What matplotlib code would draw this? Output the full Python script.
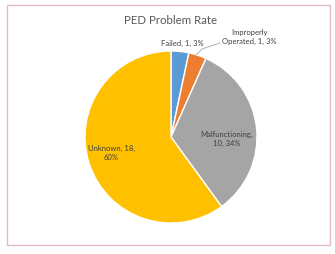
import matplotlib
matplotlib.use("Agg")
import matplotlib.pyplot as plt
from matplotlib.patches import Rectangle

categories = ["Failed", "Improperly\nOperated", "Malfunctioning", "Unknown"]
values = [1, 1, 10, 18]
percent_labels = ["3%", "3%", "34%", "60%"]
colors = ["#5B9BD5", "#ED7D31", "#A5A5A5", "#FFC000"]

plt.rcParams['font.family'] = ['Lato', 'DejaVu Sans']

fig = plt.figure(figsize=(3.35, 2.54), dpi=100)
fig.patch.set_facecolor("white")
fig.add_artist(Rectangle((7/335, 1 - 245/254), 323/335, 240/254, transform=fig.transFigure,
                         fill=False, edgecolor="#E3BCC3", linewidth=1.0))

ax = fig.add_axes([(171-86)/335, 1-(137+86)/254, 172/335, 172/254])
wedges, _ = ax.pie(values, colors=colors, startangle=90, counterclock=False,
                   wedgeprops=dict(edgecolor="white", linewidth=1.0))
ax.set_aspect("equal")
ax.set_xlim(-1, 1)
ax.set_ylim(-1, 1)

fig.text(171/335, 1-20/254, "PED Problem Rate", ha="center", va="center",
         fontsize=8.3, color="#595959")

tc = "#404040"
fs = 5.5
fig.text(182/335, 1-43/254, f"Failed, {values[0]}, {percent_labels[0]}", ha="center", va="center",
         fontsize=fs, color=tc)
fig.text(249/335, 1-37/254, f"{categories[1]}, {values[1]}, {percent_labels[1]}", ha="center", va="center",
         fontsize=fs, color=tc, linespacing=1.35, multialignment="center")
fig.text(227/335, 1-139/254, f"{categories[2]},\n{values[2]}, {percent_labels[2]}", ha="center", va="center",
         fontsize=fs, color=tc, linespacing=1.35, multialignment="center")
fig.text(88/335, 1-153/254, f"{categories[3]}, {values[3]},\n{percent_labels[3]}", ha="left", va="center",
         fontsize=fs, color=tc, linespacing=1.35, multialignment="center")

# leader line for Improperly Operated
fig.add_artist(plt.Line2D([196/335, 202/335, 220/335], [1-55/254, 1-49/254, 1-43/254],
                          transform=fig.transFigure, color="#A6A6A6", linewidth=0.6))

fig.savefig("out.png", dpi=100, facecolor="white")
